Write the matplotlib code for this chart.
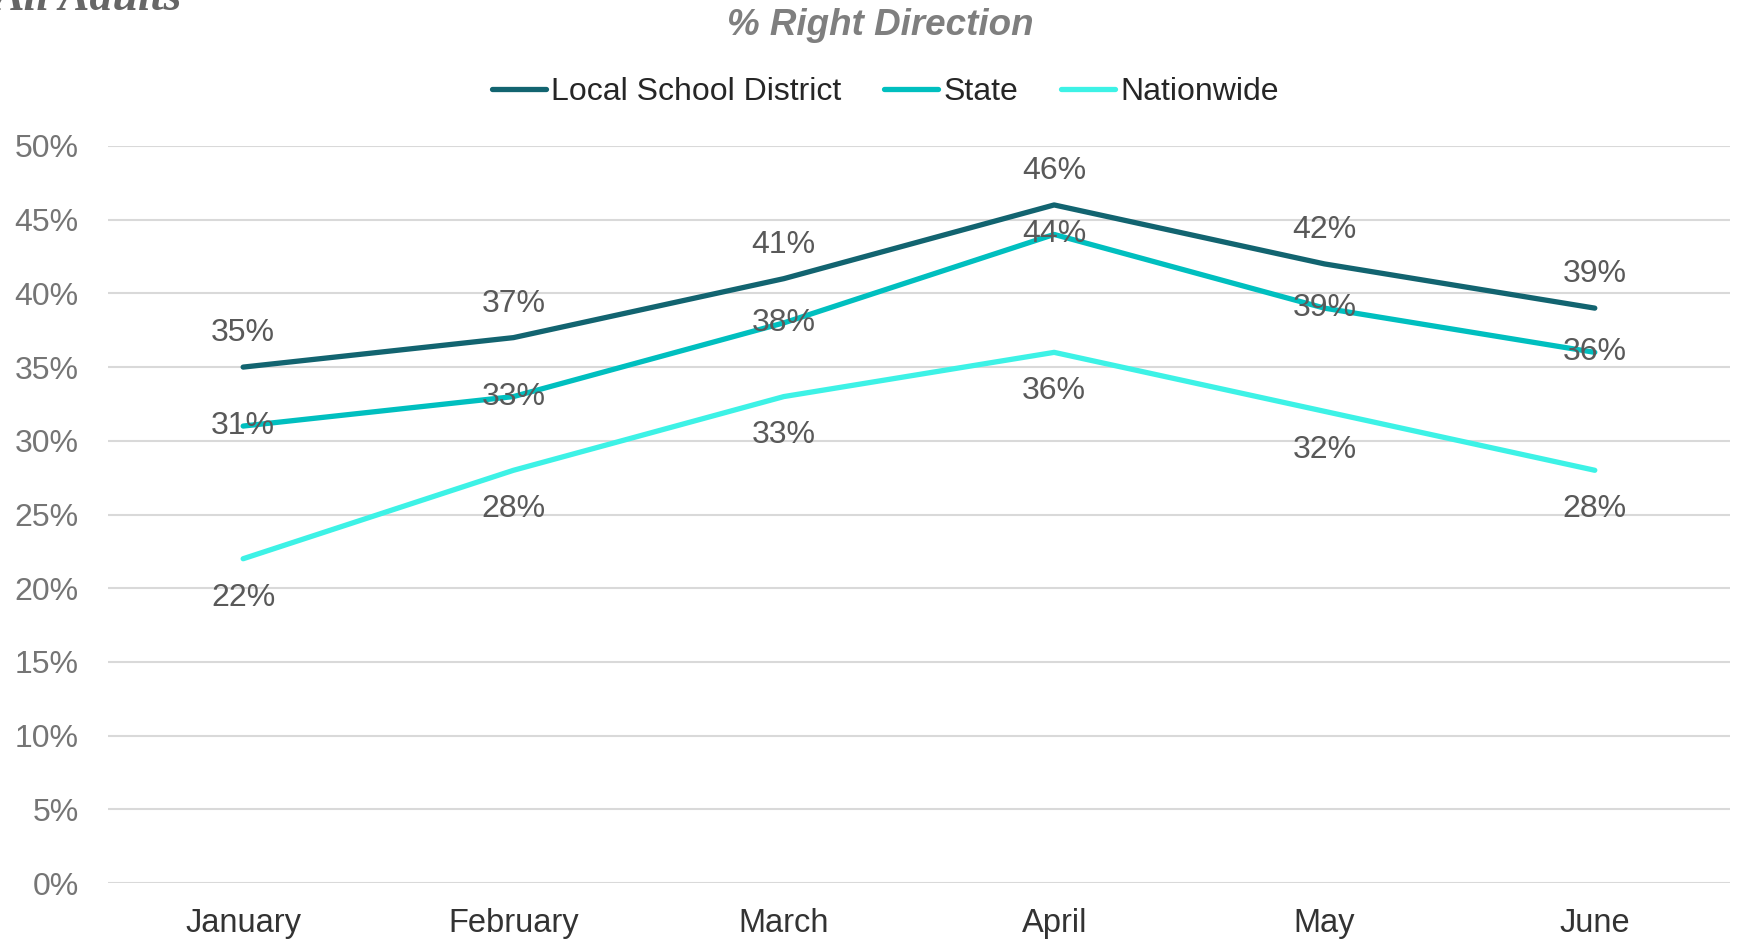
import matplotlib.pyplot as plt
import numpy as np

# Donnees
mois = ['January', 'February', 'March', 'April', 'May', 'June']
local_district = [35, 37, 41, 46, 42, 39]
etat = [31, 33, 38, 44, 39, 36]
national = [22, 28, 33, 36, 32, 28]

series = [
    ('Local School District', local_district, '#126470', 1),
    ('State', etat, '#00BFBF', 0),
    ('Nationwide', national, '#3DF2E6', -1),
]

plt.rcParams['font.family'] = ['Liberation Sans', 'DejaVu Sans']

fig = plt.figure(figsize=(17.39, 9.40), dpi=100)
ax = fig.add_axes([0.0621, 0.0606, 0.9327, 0.7841])

x = np.arange(len(mois))
for nom, vals, couleur, pos in series:
    y = np.array(vals) / 100
    ax.plot(x, y, color=couleur, linewidth=3.8, solid_capstyle='round',
            solid_joinstyle='round', label=nom)
    for xi, yi, v in zip(x, y, vals):
        # au-dessus / centre / en dessous selon la serie
        dy = 24.5 * pos if pos > 0 else 28 * pos
        ax.annotate(f'{v}%', (xi, yi), xytext=(0, dy),
                    textcoords='offset points', ha='center', va='center',
                    fontsize=23, color='#595959')

ax.set_xlim(-0.5, len(mois) - 0.5)
ax.set_ylim(0, 0.5)
ax.set_yticks(np.arange(0, 0.51, 0.05))
ax.set_yticklabels([f'{int(round(t * 100))}%' for t in np.arange(0, 0.51, 0.05)])
ax.set_xticks(x)
ax.set_xticklabels(mois)
ax.tick_params(axis='y', length=0, pad=21, labelsize=23, labelcolor='#757575')
ax.tick_params(axis='x', length=0, pad=18, labelsize=23.5, labelcolor='#333333')
ax.grid(axis='y', color='#D9D9D9', linewidth=1.5)
ax.set_axisbelow(True)
for s in ax.spines.values():
    s.set_visible(False)

fig.text(0.506, 0.9725, '% Right Direction', ha='center', va='center',
         fontsize=26.5, fontweight='bold', fontstyle='italic', color='#7F7F7F')
fig.text(-0.004, 1 - 10 / 940, 'All Adults', ha='left', va='baseline',
         fontsize=33, fontweight='bold', fontstyle='italic', color='#666666',
         family='Liberation Serif')

fig.legend(loc='center', bbox_to_anchor=(0.509, 0.902), ncol=3, frameon=False,
           fontsize=23, labelcolor='#262626', handlelength=1.7,
           handletextpad=0.15, columnspacing=1.35)

plt.savefig('out.png', dpi=100)
plt.close()
